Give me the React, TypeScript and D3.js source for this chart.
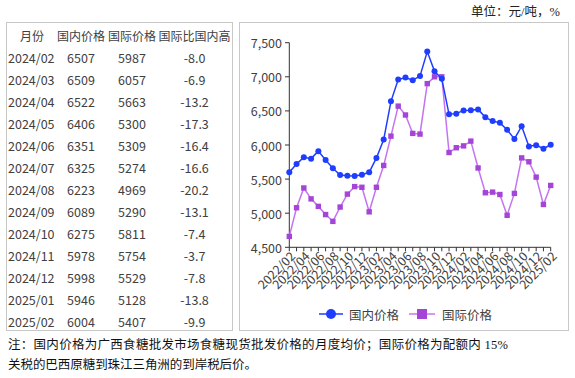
import React from "react";
import * as d3 from "d3";

const months: string[] = [];
for (let y = 2022; y <= 2025; y++) {
  for (let m = 1; m <= 12; m++) {
    const s = `${y}/${String(m).padStart(2, "0")}`;
    if (s >= "2022/02" && s <= "2025/02") months.push(s);
  }
}

const domestic = [
  5600, 5720, 5820, 5800, 5910, 5780, 5660, 5560, 5550, 5545, 5565, 5600,
  5810, 6080, 6640, 6960, 6990, 6950, 7010, 7370, 7080, 6970, 6450, 6460,
  6507, 6509, 6522, 6406, 6351, 6325, 6223, 6089, 6275, 5978, 5998, 5946, 6004,
];
const international = [
  4660, 5080, 5370, 5210, 5100, 4980, 4880, 5090, 5280, 5390, 5380, 5020,
  5380, 5700, 6130, 6570, 6440, 6170, 6160, 6900, 7000, 7000, 5890, 5960,
  5987, 6057, 5663, 5300, 5309, 5274, 4969, 5290, 5811, 5754, 5529, 5128, 5407,
];

const tableHeader = ["月份", "国内价格", "国际价格", "国际比国内高"];
const tableMonths = ["2024/02", "2024/03", "2024/04", "2024/05", "2024/06", "2024/07", "2024/08", "2024/09", "2024/10", "2024/11", "2024/12", "2025/01", "2025/02"];
const tableDomestic = ["6507", "6509", "6522", "6406", "6351", "6325", "6223", "6089", "6275", "5978", "5998", "5946", "6004"];
const tableIntl = ["5987", "6057", "5663", "5300", "5309", "5274", "4969", "5290", "5811", "5754", "5529", "5128", "5407"];
const tableDiff = ["-8.0", "-6.9", "-13.2", "-17.3", "-16.4", "-16.6", "-20.2", "-13.1", "-7.4", "-3.7", "-7.8", "-13.8", "-9.9"];

const yTicks = [4500, 5000, 5500, 6000, 6500, 7000, 7500];
const seriesNames = ["国内价格", "国际价格"];

const BLUE = "#1f3dff";
const PURPLE_LINE = "#c474f2";
const PURPLE_MARK = "#a545d8";
const SANS = "'Noto Sans CJK SC', 'Noto Sans', sans-serif";
const SERIF = "'Liberation Serif', 'Noto Sans CJK SC', serif";
const TEXT = "#404040";

export default function App() {
  const x = d3.scalePoint<string>().domain(months).range([289.3, 550.7]);
  const y = d3.scaleLinear().domain([4500, 7500]).range([247.3, 42.7]);
  const line = d3
    .line<number>()
    .x((_, i) => x(months[i]) as number)
    .y((d) => y(d));

  const colX = [32, 81, 132, 194.5];
  const rowY = (i: number) => 35 + 22 * i;

  return (
    <svg
      width={575}
      height={378}
      style={{ position: "absolute", left: 0, top: 0, background: "#fff" }}
      fontFamily={SANS}
    >
      {/* Table box */}
      <rect x={6.5} y={22.5} width={226} height={308} fill="none" stroke="#c8c8c8" strokeWidth={1} />
      {tableHeader.map((h, i) => (
        <text key={h} x={colX[i]} y={rowY(0)} textAnchor="middle" dominantBaseline="central" fontSize={12} fill={TEXT}>
          {h}
        </text>
      ))}
      {tableMonths.map((m, i) => (
        <g key={m} fontSize={12.5} fill={TEXT}>
          <text x={8} y={rowY(i + 1)} dominantBaseline="central">{m}</text>
          <text x={colX[1]} y={rowY(i + 1)} textAnchor="middle" dominantBaseline="central">{tableDomestic[i]}</text>
          <text x={colX[2]} y={rowY(i + 1)} textAnchor="middle" dominantBaseline="central">{tableIntl[i]}</text>
          <text x={colX[3]} y={rowY(i + 1)} textAnchor="middle" dominantBaseline="central">{tableDiff[i]}</text>
        </g>
      ))}

      {/* Chart box */}
      <rect x={239.5} y={22.5} width={329} height={308} fill="none" stroke="#c8c8c8" strokeWidth={1} />
      <text x={560} y={12} textAnchor="end" dominantBaseline="central" fontSize={12.5} fontFamily={SERIF} fill="#222">
        单位：元/吨，%
      </text>

      {/* Y axis */}
      <line x1={289.3} x2={289.3} y1={y(7500)} y2={y(4500)} stroke="#333" strokeWidth={1} />
      {yTicks.map((t) => (
        <g key={t}>
          <line x1={285} x2={289.3} y1={y(t)} y2={y(t)} stroke="#333" strokeWidth={1} />
          <text x={282} y={y(t)} textAnchor="end" dominantBaseline="central" fontSize={12.5} fill={TEXT}>
            {d3.format(",")(t)}
          </text>
        </g>
      ))}

      {/* X axis */}
      <line x1={289.3} x2={550.7} y1={y(4500)} y2={y(4500)} stroke="#333" strokeWidth={1} />
      {months.map((m, i) => (
        <g key={m}>
          <line x1={x(m)} x2={x(m)} y1={y(4500)} y2={y(4500) + 4} stroke="#333" strokeWidth={1} />
          {i % 2 === 0 && (
            <text
              transform={`translate(${(x(m) as number) + 3},${y(4500) + 6}) rotate(-45)`}
              textAnchor="end"
              dominantBaseline="central"
              fontSize={12.5}
              fill={TEXT}
            >
              {m}
            </text>
          )}
        </g>
      ))}

      {/* Series */}
      <path d={line(international) || ""} fill="none" stroke={PURPLE_LINE} strokeWidth={1.5} />
      {international.map((v, i) => (
        <rect key={i} x={(x(months[i]) as number) - 2.7} y={y(v) - 2.7} width={5.4} height={5.4} fill={PURPLE_MARK} />
      ))}
      <path d={line(domestic) || ""} fill="none" stroke={BLUE} strokeWidth={1.5} />
      {domestic.map((v, i) => (
        <circle key={i} cx={x(months[i]) as number} cy={y(v)} r={3} fill={BLUE} />
      ))}

      {/* Legend */}
      <line x1={319} x2={343} y1={314} y2={314} stroke={BLUE} strokeWidth={1.5} />
      <circle cx={331} cy={314} r={5} fill={BLUE} />
      <text x={349} y={314} dominantBaseline="central" fontSize={12.5} fill={TEXT}>{seriesNames[0]}</text>
      <line x1={409} x2={435} y1={314} y2={314} stroke={PURPLE_LINE} strokeWidth={1.5} />
      <rect x={417} y={309} width={10} height={10} fill={PURPLE_MARK} />
      <text x={442} y={314} dominantBaseline="central" fontSize={12.5} fill={TEXT}>{seriesNames[1]}</text>

      {/* Footnote */}
      <text x={8} y={345} dominantBaseline="central" fontSize={12.5} fontFamily={SERIF} fill="#111" textLength={500} lengthAdjust="spacing">
        注：国内价格为广西食糖批发市场食糖现货批发价格的月度均价；国际价格为配额内 15%
      </text>
      <text x={8} y={365} dominantBaseline="central" fontSize={12.5} fontFamily={SERIF} fill="#111" textLength={249} lengthAdjust="spacing">
        关税的巴西原糖到珠江三角洲的到岸税后价。
      </text>
    </svg>
  );
}
